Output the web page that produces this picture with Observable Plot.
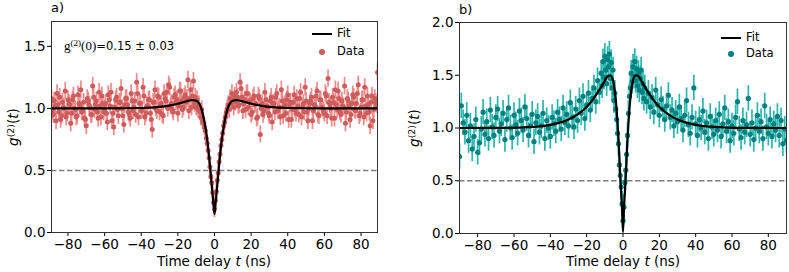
<!DOCTYPE html>
<html>
<head>
<meta charset="utf-8">
<script src="https://cdn.jsdelivr.net/npm/d3@7"></script>
<script src="https://cdn.jsdelivr.net/npm/@observablehq/plot@0.6"></script>
<style>
  body { margin: 0; background: #fff; }
  #wrap { position: relative; width: 789px; height: 272px; overflow: hidden; font-family: "DejaVu Sans", sans-serif; color: #000; }
  #wrap svg { position: absolute; top: 0; }
  .t { position: absolute; white-space: nowrap; line-height: 1; }
  .ylab { position: absolute; white-space: nowrap; font-size: 13.5px; transform: translate(-50%, -50%) rotate(-90deg); line-height: 1; }
  .ylab sup, .ann sup { font-size: 70%; vertical-align: 0.45em; line-height: 0; }
  .xlab { position: absolute; font-size: 13.5px; transform: translate(-50%, -50%); white-space: nowrap; line-height: 1; }
  .leg { position: absolute; font-size: 11.5px; transform: translateY(-50%); line-height: 1; }
</style>
</head>
<body>
<div id="wrap"></div>
<script>
// ---- Panel a data (integer-ns bins outside ±12 ns, 0.5 ns bins inside) ----
const timesA = [...d3.range(-89, -12, 1), ...d3.range(-12, 12.5, 0.5), ...d3.range(13, 90, 1)];
const g2A = [
  1.08,0.95,1.02,1.12,0.97,0.91,1.05,1.00,0.93,1.07,1.03,0.96,1.10,0.99,0.94,1.04,1.15,0.98,0.92,0.86,
  1.06,1.01,0.95,1.09,1.03,0.97,1.13,0.93,1.04,1.00,0.96,1.11,1.02,0.90,0.85,1.07,0.99,1.05,1.16,0.94,
  1.03,1.08,0.97,0.92,1.06,1.01,0.95,1.12,1.04,0.98,1.17,0.93,1.02,1.07,0.96,0.83,1.05,1.00,1.10,0.97,
  1.04,0.94,1.08,1.13,1.19,1.02,0.99,1.09,1.05,0.96,1.14,1.06,1.01,1.11,1.08,0.98,1.15,
  1.10,1.22,1.04,1.09,1.01,1.07,0.99,1.03,0.97,0.93,0.99,0.90,0.88,0.85,0.82,0.76,0.72,0.66,0.60,0.53,
  0.45,0.40,0.32,0.24,0.19,0.26,0.33,0.42,0.48,0.57,0.63,0.70,0.75,0.80,0.86,0.89,0.93,0.97,1.00,1.03,
  0.99,1.08,1.04,1.12,1.07,1.01,1.10,1.05,1.13,
  1.02,1.21,1.09,1.04,0.99,1.12,1.06,0.95,1.08,1.03,0.92,1.10,0.79,1.04,0.98,1.07,1.01,0.94,1.09,1.04,
  0.97,1.12,1.00,0.93,1.06,1.02,0.96,1.11,1.03,0.91,1.05,0.99,1.08,0.95,1.13,1.01,0.97,1.06,0.90,1.04,
  1.09,0.98,1.02,1.14,0.94,1.07,1.00,0.96,1.10,1.24,1.03,0.92,1.05,1.15,0.99,1.08,0.95,1.02,1.18,0.97,
  1.06,0.91,1.04,1.09,0.98,1.12,0.94,1.01,1.07,1.17,0.96,1.03,0.86,1.10,0.99,1.05,1.29
];
// half-ns bins outside ±12 ns
const timesAHalf = [...d3.range(-88.5, -12, 1), ...d3.range(12.5, 89, 1)];
const g2AHalf = [
  0.98,1.06,0.90,1.03,1.09,0.94,1.01,1.14,0.96,1.04,
  0.88,1.07,1.00,0.93,1.11,1.02,0.97,1.05,0.91,1.08,
  1.03,0.95,1.18,0.99,1.06,0.92,1.02,1.10,0.97,1.04,
  0.89,1.07,1.13,0.96,1.01,1.09,0.94,1.05,1.00,0.87,
  1.08,1.03,0.95,1.12,0.98,1.06,1.21,0.93,1.04,0.99,
  1.10,0.96,1.02,1.07,0.91,1.05,1.15,0.98,1.09,1.03,
  0.95,1.12,1.06,1.00,1.17,1.04,0.97,1.11,1.07,1.02,
  1.14,0.99,1.09,1.05,1.23,1.08,1.01,
  1.09,1.03,1.16,0.98,1.07,1.12,1.01,1.05,0.97,1.10,
  1.04,0.93,1.08,1.00,0.95,1.13,1.02,0.96,1.06,0.89,
  1.04,1.09,0.98,1.01,1.15,0.94,1.03,1.07,0.91,1.05,
  0.99,1.11,0.96,1.02,1.08,0.93,1.04,1.17,0.97,1.00,
  1.06,0.90,1.03,1.10,0.95,1.07,1.01,0.98,1.12,0.94,
  1.05,1.00,1.09,0.92,1.03,1.14,0.97,1.06,1.01,0.88,
  1.08,1.02,0.95,1.11,0.99,1.04,1.19,0.96,1.07,0.93,
  1.02,1.10,0.97,1.05,0.90,1.08,1.03
];
const errA = 0.07;
const fitTimesA = [-89,-60,-40,-30,-25,-20,-17,-14,-12,-10,-9,-8,-7,-6,-5,-4,-3,-2,-1.5,-1,-0.5,0,0.5,1,1.5,2,3,4,5,6,7,8,9,10,12,14,17,20,25,30,40,60,89];
const fitA = [1.0,1.0,1.003,1.012,1.022,1.037,1.05,1.062,1.067,1.062,1.052,1.03,0.99,0.93,0.85,0.75,0.62,0.46,0.38,0.30,0.22,0.15,0.22,0.30,0.38,0.46,0.62,0.75,0.85,0.93,0.99,1.03,1.052,1.062,1.067,1.062,1.05,1.037,1.022,1.012,1.003,1.0,1.0];

// ---- Panel b data ----
const timesB = [...d3.range(-90, -12, 1), ...d3.range(-12, 12.5, 0.5), ...d3.range(13, 91, 1)];
const g2B = [
  0.73,1.21,1.05,0.96,1.12,0.88,1.02,0.80,0.92,1.08,0.77,0.86,0.99,1.15,0.94,1.06,0.90,1.17,1.01,0.93,
  1.10,1.18,0.97,1.04,1.14,0.89,1.08,1.19,1.00,0.91,1.12,1.03,0.95,1.16,1.07,0.98,1.20,1.09,0.93,1.02,
  1.13,0.87,1.05,1.11,0.96,1.02,1.14,0.90,1.07,1.00,0.92,1.10,1.04,0.97,1.15,1.08,0.99,1.19,1.05,1.13,
  1.02,1.24,1.10,1.01,1.18,1.07,1.26,1.14,1.30,1.09,1.22,1.33,1.17,1.28,1.38,1.25,1.45,1.34,
  1.52,1.40,1.63,1.48,1.68,1.55,1.42,1.65,1.58,1.70,1.47,1.62,1.38,1.55,1.26,1.33,1.18,1.08,0.95,0.85,
  0.65,0.55,0.44,0.28,0.12,0.25,0.48,0.60,0.75,0.93,1.14,1.30,1.38,1.52,1.44,1.58,1.49,1.63,1.45,1.56,
  1.40,1.52,1.36,1.47,1.55,1.34,1.42,1.28,1.38,
  1.25,1.33,1.20,1.29,1.15,1.36,1.22,1.12,1.27,1.18,1.08,1.21,1.31,1.10,1.17,1.02,1.14,1.06,1.20,1.09,
  0.98,1.12,1.26,1.03,0.95,1.10,1.38,1.04,0.93,1.08,1.00,1.16,0.96,1.05,0.90,1.11,1.01,0.94,1.07,0.98,
  1.13,0.92,1.04,1.19,0.97,1.06,0.88,1.02,0.95,1.10,1.25,0.99,0.91,1.07,0.96,1.03,1.28,0.94,1.05,0.89,
  1.00,1.12,0.97,1.06,0.90,1.21,1.01,0.95,1.08,0.92,1.04,0.98,1.11,0.93,1.07,0.85,0.99,0.88
];
const errB = 0.12;
const fitTimesB = [-90,-60,-50,-40,-30,-25,-20,-15,-12,-10,-9,-8,-7,-6,-5,-4,-3,-2.5,-2,-1.5,-1,-0.5,0,0.5,1,1.5,2,2.5,3,4,5,6,7,8,9,10,12,15,20,25,30,40,50,60,90];
const fitB = [1.0,1.002,1.01,1.03,1.08,1.13,1.2,1.31,1.39,1.45,1.48,1.495,1.5,1.48,1.41,1.27,1.05,0.9,0.72,0.53,0.38,0.22,0.02,0.22,0.38,0.53,0.72,0.9,1.05,1.27,1.41,1.48,1.5,1.495,1.48,1.45,1.39,1.31,1.2,1.13,1.08,1.03,1.01,1.002,1.0];

const xTickValues = [-80, -60, -40, -20, 0, 20, 40, 60, 80];
const yTicksA = [0, 0.5, 1.0, 1.5];
const yTicksB = [0, 0.5, 1.0, 1.5, 2.0];
const threshold = 0.5;

function panel(o) {
  const data = [
    ...o.times.map((t, i) => ({t, g: o.values[i]})),
    ...o.times2.map((t, i) => ({t, g: o.values2[i]}))
  ].sort((a, b) => a.t - b.t);
  const fit = o.fitT.map((t, i) => ({t, g: o.fitG[i]}));
  return Plot.plot({
    width: o.w, height: 272,
    marginLeft: o.ml, marginRight: o.mr, marginTop: o.mt, marginBottom: o.mb,
    x: {domain: o.xd, ticks: xTickValues, tickSize: 4, tickPadding: 3, label: null, tickFormat: d3.format("d")},
    y: {domain: o.yd, ticks: o.yt, tickSize: 4, tickPadding: 2, label: null, tickFormat: d3.format(".1f")},
    style: {fontFamily: "DejaVu Sans", fontSize: "13.5px", color: "#000", background: "transparent", overflow: "visible"},
    marks: [
      Plot.ruleY([threshold], {stroke: "#808080", strokeWidth: 1.5, strokeDasharray: "5.5,2.5"}),
      Plot.ruleX(data, {x: "t", y1: d => d.g - o.err, y2: d => d.g + o.err, stroke: o.barColor, strokeWidth: 1.7, clip: true}),
      Plot.dot(data, {x: "t", y: "g", r: o.r, fill: o.dotColor, stroke: null, clip: true}),
      Plot.line(fit, {x: "t", y: "g", stroke: "black", strokeWidth: 2.2, curve: "monotone-x", clip: true}),
      Plot.frame({stroke: "#333", strokeWidth: 1})
    ]
  });
}

const wrap = document.getElementById("wrap");
const svgA = panel({w: 395, ml: 51, mr: 18, mt: 21, mb: 40, xd: [-89, 89], yd: [0, 1.7], yt: yTicksA,
  times: timesA, values: g2A, times2: timesAHalf, values2: g2AHalf, err: errA, r: 2.5,
  fitT: fitTimesA, fitG: fitA, dotColor: "#cd5c5c", barColor: "#f28a8a"});
svgA.style.left = "0px";
wrap.appendChild(svgA);
const svgB = panel({w: 389, ml: 59, mr: 3, mt: 22, mb: 39, xd: [-90, 90], yd: [0, 2.0], yt: yTicksB,
  times: timesB, values: g2B, times2: [], values2: [], err: errB, r: 2.6,
  fitT: fitTimesB, fitG: fitB, dotColor: "#008080", barColor: "#2ab7ad"});
svgB.style.left = "400px";
wrap.appendChild(svgB);

function add(html) { wrap.insertAdjacentHTML("beforeend", html); }
// panel labels
add('<div class="t" style="left:51px;top:1px;font-size:13px">a)</div>');
add('<div class="t" style="left:459px;top:3px;font-size:13px">b)</div>');
// axis labels
add('<div class="xlab" style="left:214px;top:262px">Time delay <i>t</i> (ns)</div>');
add('<div class="xlab" style="left:623px;top:262px">Time delay <i>t</i> (ns)</div>');
add('<div class="ylab" style="left:14px;top:127px"><i>g</i><sup>(2)</sup>(<i>t</i>)</div>');
add('<div class="ylab" style="left:415px;top:128px"><i>g</i><sup>(2)</sup>(<i>t</i>)</div>');
// annotation
add('<div class="t ann" style="left:64px;top:39px;font-size:11.5px"><span style="font-family:\'Liberation Serif\',serif;font-size:13px">g<sup>(2)</sup>(0)</span>=0.15 ± 0.03</div>');
// legends
function legend(x, yFit, yData, color) {
  add(`<div style="position:absolute;left:${x}px;top:${yFit - 1}px;width:20px;height:2.2px;background:#000"></div>`);
  add(`<div class="leg" style="left:${x + 25}px;top:${yFit}px">Fit</div>`);
  add(`<div style="position:absolute;left:${x + 7}px;top:${yData - 3}px;width:6px;height:6px;border-radius:50%;background:${color}"></div>`);
  add(`<div class="leg" style="left:${x + 25}px;top:${yData}px">Data</div>`);
}
legend(312, 34, 52, "#cd5c5c");
legend(721, 37.5, 54, "#008080");
</script>
</body>
</html>
